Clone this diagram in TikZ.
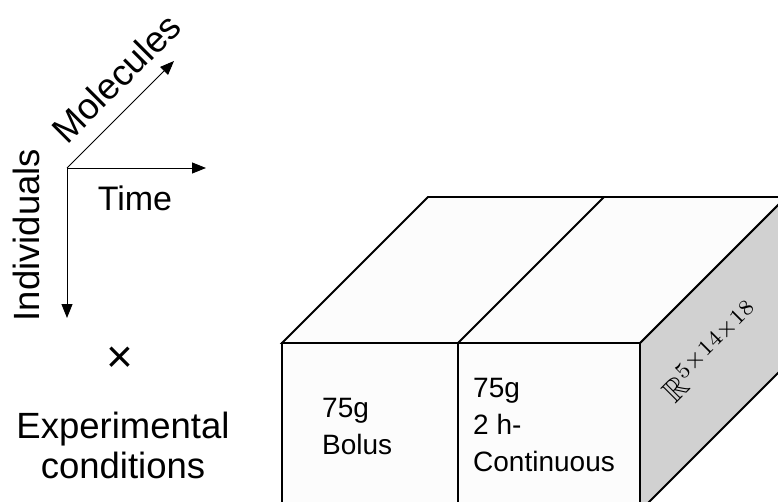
\documentclass[tikz,border=0pt]{standalone}
\usepackage{amssymb}
\usepackage{fontspec}
\setmainfont{Liberation Sans}
\usetikzlibrary{arrows.meta}
\begin{document}
\begin{tikzpicture}[x=1pt,y=1pt,
  axis/.style={line width=0.9pt,-{Triangle[length=14pt,width=11pt]}},
  face/.style={draw=black,line width=1.8pt,line join=miter,fill=white!99!black},
  side/.style={draw=black,line width=1.8pt,fill=black!18},
  big/.style={font=\fontsize{34}{40}\selectfont},
  bigger/.style={font=\fontsize{36.5}{40}\selectfont},
  boxtxt/.style={font=\fontsize{28}{37}\selectfont,align=left,inner sep=0pt}]
\clip (0,0) rectangle (778,501);
% axes
\coordinate (O) at (67,333);
\coordinate (T) at (206,333);
\coordinate (M) at (174,440);
\coordinate (I) at (67,183);
\draw[axis] (O) -- (T);
\draw[axis] (O) -- (M);
\draw[axis] (O) -- (I);
\node[big] (time) at (135,303) {Time};
\node[bigger,rotate=45] (mol) at (116,423) {Molecules};
\node[bigger,rotate=90] (ind) at (26,266) {Individuals};
\node[font=\fontsize{46}{50}\selectfont,inner sep=0pt] (times) at (120,141) {×};
\node[bigger,align=center] (exp) at (123,56) {Experimental\\conditions};
% box
\coordinate (fbl) at (282,-10);
\coordinate (ftl) at (282,158);
\coordinate (fbm) at (458,-10);
\coordinate (ftm) at (458,158);
\coordinate (fbr) at (640,-10);
\coordinate (ftr) at (640,158);
\coordinate (btl) at (428,304);
\coordinate (btm) at (604,304);
\coordinate (btr) at (786,304);
\coordinate (bbr) at (786,136);
\draw[side] (ftr) -- (btr) -- (bbr) -- (fbr) -- cycle;
\draw[face] (ftl) -- (btl) -- (btr) -- (ftr) -- cycle;
\draw[face] (ftm) -- (btm);
\draw[face] (fbl) rectangle (ftm);
\draw[face] (fbm) rectangle (ftr);
\node[boxtxt,anchor=north west] (bolus) at (322,103) {75g\\Bolus};
\node[boxtxt,anchor=north west] (cont) at (473,123) {75g\\2 h-\\Continuous};
\node[rotate=45,scale=3.15,transform shape,inner sep=0pt] (dim) at (711,150) {$\mathbb{R}^{5\times14\times18}$};
\end{tikzpicture}
\end{document}
